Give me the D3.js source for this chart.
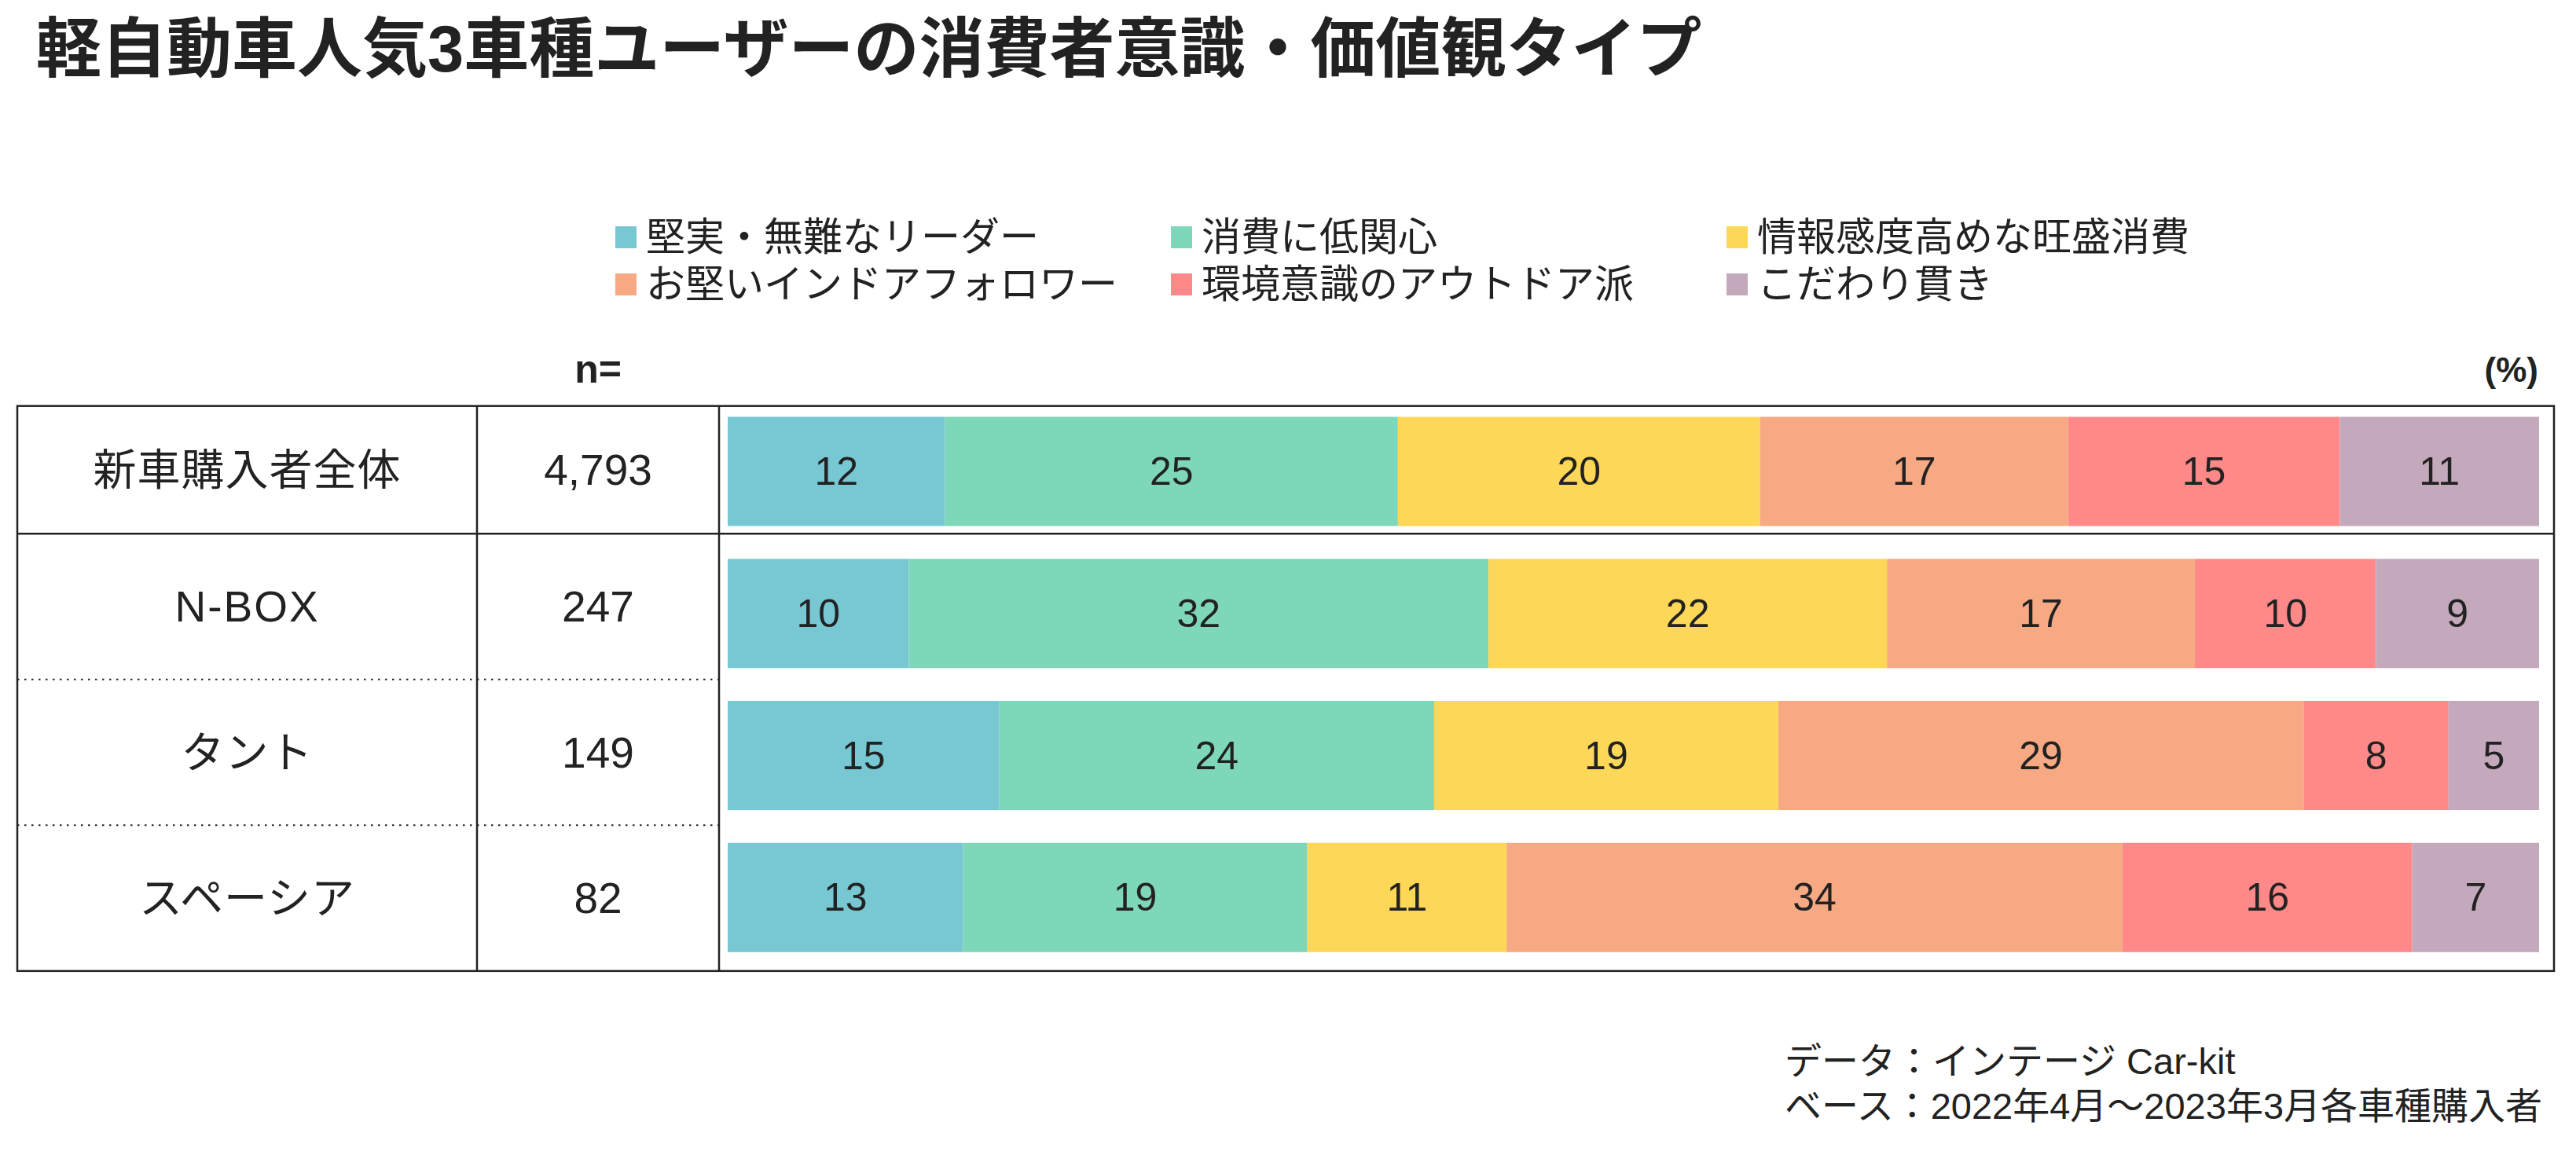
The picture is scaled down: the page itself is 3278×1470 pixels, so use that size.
<!DOCTYPE html>
<html>
<head>
<meta charset="utf-8">
<script src="https://cdn.jsdelivr.net/npm/d3@7"></script>
<style>
  body { margin: 0; background: #fff; }
  svg text { font-family: "Liberation Sans", "Noto Sans CJK JP", sans-serif; fill: #222; }
</style>
</head>
<body>
<div id="chart"></div>
<script>
// data
var types = ["堅実・無難なリーダー", "消費に低関心", "情報感度高めな旺盛消費",
             "お堅いインドアフォロワー", "環境意識のアウトドア派", "こだわり貫き"];
var typeColors = ["#78c8d4", "#7fd7ba", "#fdd757", "#f7a984", "#ff8989", "#c3a9bb"];
var groups = ["新車購入者全体", "N-BOX", "タント", "スペーシア"];
var sampleSizes = [4793, 247, 149, 82];
var shares = [
    [12, 25, 20, 17, 15, 11],
    [10, 32, 22, 17, 10, 9],
    [15, 24, 19, 29, 8, 5],
    [13, 19, 11, 34, 16, 7]
];
var titleText = "軽自動車人気3車種ユーザーの消費者意識・価値観タイプ";
var footerLines = ["データ：インテージ Car-kit", "ベース：2022年4月～2023年3月各車種購入者"];

var width = 3278, height = 1470;

var svg = d3.select("#chart")
    .append("svg")
    .attr("width", width)
    .attr("height", height);

// title
svg.append("text")
    .attr("x", 46)
    .attr("y", 62)
    .attr("dominant-baseline", "central")
    .attr("font-size", 83)
    .attr("font-weight", "bold")
    .text(titleText);

// legend (3 columns x 2 rows)
var legend = svg.append("g")
    .selectAll("g")
    .data(types)
    .enter()
    .append("g")
    .attr("transform", function (d, i) {
        return "translate(" + (783 + (i % 3) * 707) + "," + (302 + Math.floor(i / 3) * 60) + ")";
    });

legend.append("rect")
    .attr("x", 0)
    .attr("y", -14)
    .attr("width", 27)
    .attr("height", 28)
    .attr("fill", function (d, i) { return typeColors[i]; });

legend.append("text")
    .attr("x", 39)
    .attr("y", 0)
    .attr("dominant-baseline", "central")
    .attr("font-size", 50)
    .text(function (d) { return d; });

// table layout
var tableLeft = 22, col1 = 607, col2 = 915, tableRight = 3250;
var tableTop = 516.7, firstRowH = 162.6, rowH = 185.5;
var rowTop = function (i) { return i === 0 ? tableTop : tableTop + firstRowH + (i - 1) * rowH; };
var rowBottom = function (i) { return i === 0 ? tableTop + firstRowH : rowTop(i) + rowH; };
var tableBottom = rowBottom(groups.length - 1);

// headers
svg.append("text")
    .attr("x", (col1 + col2) / 2)
    .attr("y", 487)
    .attr("text-anchor", "middle")
    .attr("font-size", 50)
    .attr("font-weight", "bold")
    .text("n=");

svg.append("text")
    .attr("x", 3230)
    .attr("y", 486)
    .attr("text-anchor", "end")
    .attr("font-size", 44)
    .attr("font-weight", "bold")
    .text("(%)");

// scales
var x = d3.scaleLinear().domain([0, 100]).range([926, 3231]);
var y = d3.scaleBand()
    .domain(groups)
    .range([530.5, 1211.8])
    .paddingInner(0.2308)
    .paddingOuter(0);

var stackData = shares.map(function (row, i) {
    var o = { group: groups[i] };
    types.forEach(function (t, j) { o[t] = row[j]; });
    return o;
});
var series = d3.stack().keys(types)(stackData);

// bars
var layer = svg.append("g")
    .selectAll("g")
    .data(series)
    .enter()
    .append("g")
    .attr("fill", function (d, i) { return typeColors[i]; });

layer.selectAll("rect")
    .data(function (d) { return d; })
    .enter()
    .append("rect")
    .attr("x", function (d) { return x(d[0]); })
    .attr("y", function (d) { return y(d.data.group); })
    .attr("width", function (d) { return x(d[1]) - x(d[0]); })
    .attr("height", y.bandwidth());

// bar value labels
var labels = svg.append("g")
    .selectAll("g")
    .data(series)
    .enter()
    .append("g");

labels.selectAll("text")
    .data(function (d) { return d; })
    .enter()
    .append("text")
    .attr("x", function (d) { return (x(d[0]) + x(d[1])) / 2; })
    .attr("y", function (d) { return y(d.data.group) + y.bandwidth() / 2; })
    .attr("text-anchor", "middle")
    .attr("dominant-baseline", "central")
    .attr("font-size", 50)
    .text(function (d) { return d[1] - d[0]; });

// table text
var fmt = d3.format(",");
groups.forEach(function (g, i) {
    var cy = (rowTop(i) + rowBottom(i)) / 2;
    svg.append("text")
        .attr("x", (tableLeft + col1) / 2)
        .attr("y", cy)
        .attr("text-anchor", "middle")
        .attr("dominant-baseline", "central")
        .attr("font-size", 55)
        .attr("letter-spacing", g === "N-BOX" ? 2 : 1)
        .text(g);
    svg.append("text")
        .attr("x", (col1 + col2) / 2)
        .attr("y", cy)
        .attr("text-anchor", "middle")
        .attr("dominant-baseline", "central")
        .attr("font-size", 55)
        .text(fmt(sampleSizes[i]));
});

// table lines
var lines = svg.append("g")
    .attr("stroke", "#222")
    .attr("fill", "none");

lines.append("rect")
    .attr("x", tableLeft)
    .attr("y", tableTop)
    .attr("width", tableRight - tableLeft)
    .attr("height", tableBottom - tableTop)
    .attr("stroke-width", 2.5);

[col1, col2].forEach(function (cx) {
    lines.append("line")
        .attr("x1", cx).attr("x2", cx)
        .attr("y1", tableTop).attr("y2", tableBottom)
        .attr("stroke-width", 2.5);
});

lines.append("line")
    .attr("x1", tableLeft).attr("x2", tableRight)
    .attr("y1", rowBottom(0)).attr("y2", rowBottom(0))
    .attr("stroke-width", 2.5);

for (var i = 1; i < groups.length - 1; i++) {
    lines.append("line")
        .attr("x1", tableLeft).attr("x2", col2)
        .attr("y1", rowBottom(i)).attr("y2", rowBottom(i))
        .attr("stroke-width", 2)
        .attr("stroke-dasharray", "2.5,6.5");
}

// footer
svg.append("g")
    .selectAll("text")
    .data(footerLines)
    .enter()
    .append("text")
    .attr("x", 2271)
    .attr("y", function (d, i) { return 1350 + i * 57; })
    .attr("dominant-baseline", "central")
    .attr("font-size", 47)
    .text(function (d) { return d; });
</script>
</body>
</html>
